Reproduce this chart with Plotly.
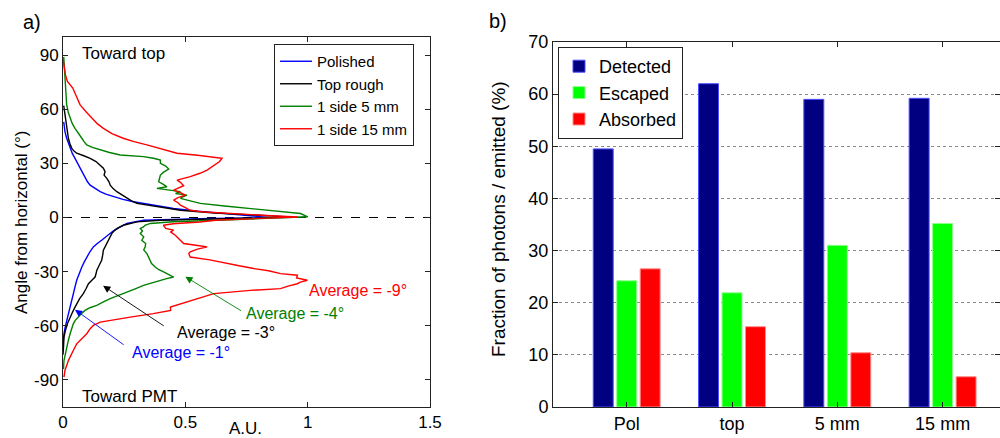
import plotly.graph_objects as go

# ---------------- Panel a) data: angle (deg) vs intensity (A.U.) ----------------
pol_angle = [53, 50, 47.6, 43.9, 41, 38.3, 35.5, 32.8, 30, 27.2, 24.5, 21.7, 19.8, 17.9, 16, 14.3,
             12.9, 11.5, 10, 8.7, 7.7, 6.8, 5, 3.5, 2, 0.8, -0.2, -0.6, -1.5, -3.3, -4.7, -6.1,
             -7.5, -8.9, -10.7, -12.6, -14.4, -16.3, -19, -21.9, -24.6, -27.4, -31, -34.8, -38.5,
             -42.2, -46, -49.6, -53.3, -57, -60.7, -64.4, -69]
pol_int = [0.003, 0.005, 0.008, 0.015, 0.022, 0.029, 0.038, 0.049, 0.06, 0.07, 0.08, 0.09, 0.1,
           0.111, 0.13, 0.152, 0.175, 0.206, 0.245, 0.288, 0.33, 0.37, 0.452, 0.55, 0.68, 0.8,
           0.86, 0.6, 0.329, 0.261, 0.24, 0.22, 0.205, 0.193, 0.175, 0.158, 0.14, 0.124, 0.11,
           0.097, 0.087, 0.077, 0.066, 0.056, 0.049, 0.042, 0.035, 0.029, 0.022, 0.015, 0.009,
           0.004, 0.001]

top_angle = [62, 56.8, 51.3, 47.5, 43.9, 41, 38.3, 36.8, 35.6, 34.2, 32.8, 31, 29.1, 27.3, 25.4,
             23.5, 21.7, 19.8, 17.9, 16, 14.3, 12.5, 10.6, 9.2, 7.8, 5.9, 4, 2.5, 1.2, 0.2, -0.6,
             -1.5, -2.4, -4.3, -5.6, -7, -8.8, -10.7, -12.5, -14.4, -16.3, -18.1, -21, -23.7,
             -26.5, -29.3, -31.2, -33, -34.8, -36.7, -39.5, -42.2, -45, -47.8, -50.5, -53.3, -56,
             -58.9, -62.5, -66.3, -72, -76]
top_int = [0.003, 0.008, 0.015, 0.018, 0.022, 0.028, 0.036, 0.045, 0.056, 0.085, 0.111, 0.135,
           0.152, 0.165, 0.172, 0.168, 0.179, 0.188, 0.193, 0.205, 0.22, 0.24, 0.261, 0.28, 0.302,
           0.384, 0.48, 0.62, 0.8, 0.94, 0.7, 0.398, 0.302, 0.247, 0.228, 0.213, 0.2, 0.193, 0.184,
           0.179, 0.172, 0.165, 0.162, 0.158, 0.148, 0.138, 0.135, 0.131, 0.118, 0.104, 0.094,
           0.083, 0.068, 0.056, 0.046, 0.036, 0.026, 0.018, 0.01, 0.004, 0.002, 0.0]

s5_angle = [89, 85, 80, 75.4, 70, 66, 62.4, 58, 55, 52, 49.4, 46.5, 43.9, 42, 40.2, 38.8, 37.4, 36,
            34.6, 33.7, 32.8, 31.8, 30, 28.5, 26.8, 25, 23.5, 21.5, 19.8, 18.3, 17, 16.1, 15.2,
            14.3, 13.3, 12.4, 11.5, 10.6, 9.2, 7.8, 6.4, 5, 3.6, 2.2, 0.4, -0.5, -1.5, -2.4, -3.3,
            -4.3, -5.2, -6.1, -7.5, -8.9, -10.7, -12.6, -14.4, -16.3, -18, -20, -22, -23.7, -25.5,
            -27.4, -28.8, -30.2, -31.6, -33, -34, -34.8, -36.2, -37.6, -39.5, -41.3, -43, -45,
            -46.8, -48.7, -50, -51.5, -53.3, -55.2, -57, -58.9, -61.5, -64.4, -68, -71.8, -75.5,
            -79.3, -84]
s5_int = [0.003, 0.005, 0.006, 0.008, 0.01, 0.013, 0.015, 0.022, 0.029, 0.038, 0.049, 0.062,
          0.077, 0.086, 0.097, 0.12, 0.152, 0.19, 0.234, 0.329, 0.37, 0.398, 0.398, 0.42, 0.432,
          0.41, 0.398, 0.395, 0.391, 0.41, 0.425, 0.384, 0.44, 0.48, 0.46, 0.507, 0.49, 0.48,
          0.52, 0.561, 0.66, 0.766, 0.87, 0.971, 1.0, 0.85, 0.63, 0.45, 0.357, 0.335, 0.329,
          0.316, 0.325, 0.316, 0.33, 0.322, 0.338, 0.336, 0.33, 0.343, 0.35, 0.357, 0.362,
          0.377, 0.39, 0.411, 0.43, 0.452, 0.42, 0.398, 0.36, 0.329, 0.295, 0.261, 0.225, 0.193,
          0.165, 0.138, 0.11, 0.09, 0.075, 0.063, 0.05, 0.042, 0.035, 0.029, 0.022, 0.015, 0.01,
          0.004, 0.002]

s15_angle = [88, 85, 82.8, 79, 75.4, 73, 71.7, 67, 62.4, 58.5, 55, 52, 49.4, 46.5, 43.9, 42,
             40.2, 38, 36.5, 35.6, 34.5, 33.5, 32.8, 31, 29, 27.5, 26.3, 24.5, 22.6, 20.7, 19.5,
             17.6, 16.5, 15.2, 13.8, 12.4, 11, 9.6, 8.2, 6.8, 5.4, 4, 3, 2, 1, 0.3, -0.5, -1.5,
             -2.5, -3.5, -4.3, -6, -7, -8, -10, -12.6, -14.4, -15.5, -16.3, -17.5, -19, -20,
             -21.9, -23.5, -25.6, -27, -28.3, -29.5, -31.1, -32, -33.5, -34.8, -35.8, -36.7, -38,
             -39.4, -40.4, -41.3, -42.2, -44.5, -46.9, -48.3, -49.6, -51.5, -53.3, -55.2, -56.7,
             -58, -59.8, -61.6, -64.4, -67.2, -70, -73.7, -79.3, -84.8, -88.5]
s15_int = [0.0, 0.003, 0.004, 0.01, 0.018, 0.03, 0.04, 0.055, 0.07, 0.095, 0.118, 0.14, 0.165,
           0.2, 0.246, 0.29, 0.343, 0.4, 0.44, 0.466, 0.55, 0.62, 0.65, 0.64, 0.616, 0.6, 0.589,
           0.56, 0.52, 0.466, 0.48, 0.493, 0.47, 0.452, 0.48, 0.5, 0.47, 0.452, 0.47, 0.48, 0.5,
           0.52, 0.58, 0.7, 0.85, 0.96, 0.8, 0.62, 0.56, 0.45, 0.41, 0.42, 0.452, 0.44, 0.46,
           0.48, 0.493, 0.55, 0.589, 0.55, 0.52, 0.514, 0.52, 0.6, 0.67, 0.73, 0.78, 0.84, 0.889,
           0.958, 0.955, 0.999, 0.97, 0.958, 0.92, 0.889, 0.766, 0.69, 0.616, 0.56, 0.507, 0.47,
           0.439, 0.44, 0.369, 0.275, 0.205, 0.152, 0.124, 0.111, 0.097, 0.077, 0.056, 0.042,
           0.022, 0.008, 0.004]

line_names = ["Polished", "Top rough", "1 side 5 mm", "1 side 15 mm"]
line_colors = ["#0000ff", "#000000", "#008000", "#ff0000"]
avg_labels = ["Average = -1°", "Average = -3°", "Average = -4°", "Average = -9°"]

a_xticks = [0, 0.5, 1, 1.5]
a_xticklabels = ["0", "0.5", "1", "1.5"]
a_yticks = [-90, -60, -30, 0, 30, 60, 90]
a_yticklabels = ["-90", "-60", "-30", "0", "30", "60", "90"]

# ---------------- Panel b) data ----------------
categories = ["Pol", "top", "5 mm", "15 mm"]
cat_pos = [1, 2, 3, 4]
detected = [49.5, 62.0, 59.0, 59.2]
escaped = [24.2, 21.9, 31.0, 35.2]
absorbed = [26.5, 15.4, 10.4, 5.8]
bar_names = ["Detected", "Escaped", "Absorbed"]
bar_colors = ["#000080", "#00ff00", "#ff0000"]
bar_edges = ["#4d4dff", "#8cff8c", "#ff8c8c"]
b_yticks = [0, 10, 20, 30, 40, 50, 60, 70]

FONT = "Liberation Sans, Arial, sans-serif"

fig = go.Figure()

series = [(pol_int, pol_angle), (top_int, top_angle), (s5_int, s5_angle), (s15_int, s15_angle)]
for (xv, yv), nm, col in zip(series, line_names, line_colors):
    fig.add_trace(go.Scatter(x=xv, y=yv, mode="lines", name=nm,
                             line=dict(color=col, width=1.4),
                             xaxis="x", yaxis="y", legend="legend"))

for vals, nm, col, ec in zip([detected, escaped, absorbed], bar_names, bar_colors, bar_edges):
    fig.add_trace(go.Bar(x=cat_pos, y=vals, name=nm,
                         marker=dict(color=col, line=dict(color=ec, width=1)),
                         xaxis="x2", yaxis="y2", legend="legend2"))


def ax(size, **kw):
    d = dict(showline=True, linecolor="#222222", linewidth=1, mirror="ticks", ticks="inside",
             ticklen=5, tickcolor="#222222", zeroline=False, automargin=False,
             tickfont=dict(family=FONT, size=size, color="black"))
    d.update(kw)
    return d


fig.update_layout(
    template="none",
    width=1000, height=438, autosize=False,
    margin=dict(l=0, r=0, t=0, b=0, pad=0),
    paper_bgcolor="white", plot_bgcolor="white",
    font=dict(family=FONT, color="black"),
    barmode="group", bargap=0.331, bargroupgap=0.15,
    xaxis=ax(17, domain=[0.063, 0.430], range=[0, 1.5], tickvals=a_xticks, ticktext=a_xticklabels,
             showgrid=False, anchor="y", ticklabelstandoff=0),
    yaxis=ax(17, domain=[0.0708, 0.9155], range=[-105, 100], tickvals=a_yticks,
             ticktext=a_yticklabels, showgrid=False, anchor="x", ticklabelstandoff=0),
    xaxis2=ax(18, domain=[0.553, 1.0], range=[0.3, 4.545], tickvals=cat_pos, ticktext=categories,
              showgrid=False, anchor="y2", ticklabelstandoff=0),
    yaxis2=ax(18, domain=[0.0708, 0.9041], range=[0, 70], tickvals=b_yticks,
              showgrid=True, gridcolor="#8a8a8a", griddash="dot", gridwidth=1, anchor="x2",
              ticklabelstandoff=0),
    legend=dict(x=0.274, y=1 - 44 / 438, xanchor="left", yanchor="top", bgcolor="white",
                bordercolor="#222222", borderwidth=1, font=dict(family=FONT, size=15, color="black"),
                itemwidth=32, tracegroupgap=0),
    legend2=dict(x=0.558, y=1 - 47 / 438, xanchor="left", yanchor="top", bgcolor="white",
                 bordercolor="#222222", borderwidth=1, font=dict(family=FONT, size=18, color="black")),
    shapes=[dict(type="line", xref="x", yref="y", x0=0, x1=1.5, y0=0, y1=0,
                 line=dict(color="black", width=1, dash="dash"), layer="below")],
)

ann = []
ann.append(dict(text="a)", x=0.032, y=1 - 22 / 438, xref="paper", yref="paper", xanchor="center",
                yanchor="middle", showarrow=False, font=dict(size=20)))
ann.append(dict(text="b)", x=0.498, y=1 - 21 / 438, xref="paper", yref="paper", xanchor="center",
                yanchor="middle", showarrow=False, font=dict(size=20)))
ann.append(dict(text="Angle from horizontal (°)", x=0.021, y=1 - 223 / 438, xref="paper",
                yref="paper", xanchor="center", yanchor="middle", textangle=-90, showarrow=False,
                font=dict(size=17)))
ann.append(dict(text="A.U.", x=0.245, y=1 - 428 / 438, xref="paper", yref="paper",
                xanchor="center", yanchor="middle", showarrow=False, font=dict(size=17)))
ann.append(dict(text="Fraction of photons / emitted (%)", x=0.498, y=1 - 219 / 438, xref="paper",
                yref="paper", xanchor="center", yanchor="middle", textangle=-90, showarrow=False,
                font=dict(size=19)))
ann.append(dict(text="Toward top", x=0.07, y=91, xref="x", yref="y", xanchor="left",
                yanchor="middle", showarrow=False, font=dict(size=17)))
ann.append(dict(text="Toward PMT", x=0.07, y=-99, xref="x", yref="y", xanchor="left",
                yanchor="middle", showarrow=False, font=dict(size=17)))

txt_pos = [(0.275, -75), (0.459, -63.9), (0.738, -53.3), (0.996, -40.6)]
for lab, (tx, ty), col in zip(avg_labels, txt_pos, line_colors):
    ann.append(dict(text=lab, x=tx, y=ty, xref="x", yref="y", xanchor="left", yanchor="middle",
                    showarrow=False, font=dict(size=16, color=col)))

arrows = [((0.049, -51.1), (0.254, -71.1), line_colors[0]),
          ((0.164, -37.8), (0.418, -60.6), line_colors[1]),
          ((0.50, -32.8), (0.734, -52.2), line_colors[2])]
for (hx, hy), (tx, ty), col in arrows:
    ann.append(dict(text="", x=hx, y=hy, ax=tx, ay=ty, xref="x", yref="y", axref="x", ayref="y",
                    showarrow=True, arrowhead=2, arrowsize=1.6, arrowwidth=0.9, arrowcolor=col,
                    standoff=0))

fig.update_layout(annotations=ann)
fig.write_html("out.html")
